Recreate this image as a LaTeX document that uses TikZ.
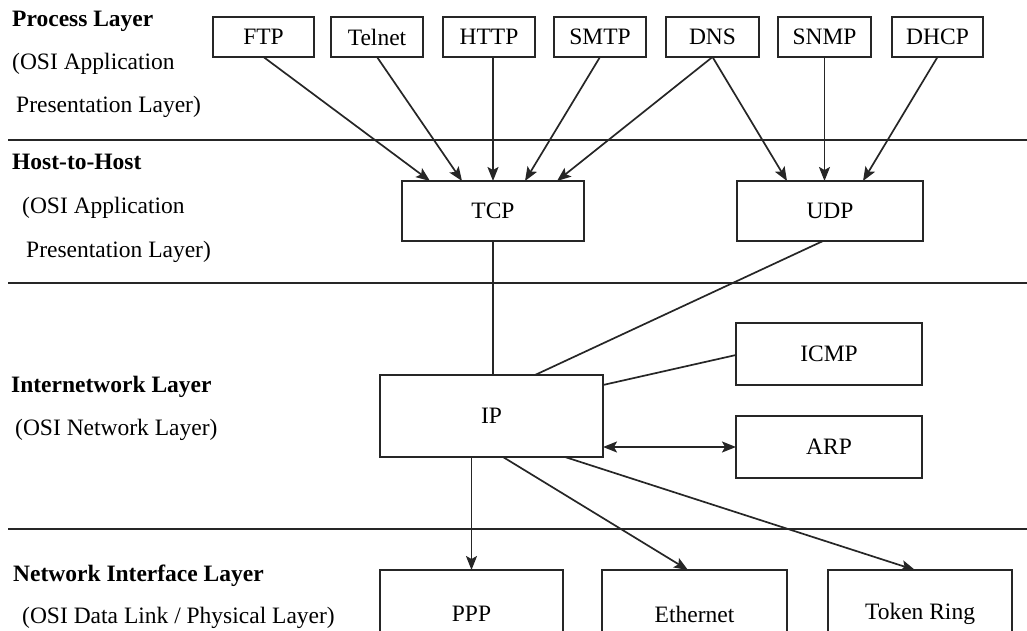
\documentclass[tikz,border=0pt]{standalone}
\usepackage{fontspec}
\setmainfont{Liberation Serif}
\usetikzlibrary{arrows.meta,calc}

\begin{document}
\begin{tikzpicture}
  [x=1pt,y=-1pt,
   proto/.style={rectangle,draw=black!85,align=center,
                 inner sep=0,outer sep=0,line width=1.6pt},
   link/.style={draw=black!85,line width=1.7pt},
   tip/.style={-{Stealth[length=14pt,width=11pt,inset=3pt]}},
   twotip/.style={{Stealth[length=14pt,width=11pt,inset=3pt]}-{Stealth[length=14pt,width=11pt,inset=3pt]}},
   layer/.style={anchor=base west,inner sep=0,font=\bfseries},
   osi/.style={anchor=base west,inner sep=0}]
  \fontsize{23.5}{28}\selectfont
  \useasboundingbox (0,0) rectangle (1027,631);
  \clip (0,0) rectangle (1027,631);
  % layer separators
  \draw[link] (8,140) -- (1027,140);
  \draw[link] (8,283) -- (1027,283);
  \draw[link] (8,529) -- (1027,529);
  % layer names
  \node[layer] (proc) at (12,27) {Process Layer};
  \node[osi] (proc1) at (12,70) {(OSI Application};
  \node[osi] (proc2) at (16,113) {Presentation Layer)};
  \node[layer] (host) at (12,170) {Host-to-Host};
  \node[osi] (host1) at (22,213) {(OSI Application};
  \node[osi] (host2) at (26,257) {Presentation Layer)};
  \node[layer] (inet) at (11,392) {Internetwork Layer};
  \node[osi] (inet1) at (15,435) {(OSI Network Layer)};
  \node[layer] (nif) at (13,581) {Network Interface Layer};
  \node[osi] (nif1) at (22,623) {(OSI Data Link / Physical Layer)};
  % process layer protocols
  \node[proto,minimum width=101,minimum height=40] (FTP) at (263.5,37) {FTP};
  \node[proto,minimum width=92,minimum height=40] (Telnet) at (377,37) {Telnet};
  \node[proto,minimum width=92,minimum height=40] (HTTP) at (489,37) {HTTP};
  \node[proto,minimum width=92,minimum height=40] (SMTP) at (600,37) {SMTP};
  \node[proto,minimum width=93,minimum height=40] (DNS) at (712.5,37) {DNS};
  \node[proto,minimum width=93,minimum height=40] (SNMP) at (824.5,37) {SNMP};
  \node[proto,minimum width=91,minimum height=40] (DHCP) at (937.5,37) {DHCP};
  % transport
  \node[proto,minimum width=182,minimum height=60] (TCP) at (493,211) {TCP};
  \node[proto,minimum width=186,minimum height=60] (UDP) at (830,211) {UDP};
  % internetwork
  \node[proto,minimum width=223,minimum height=82] (IP) at (491.5,416) {IP};
  \node[proto,minimum width=186,minimum height=62] (ICMP) at (829,354) {ICMP};
  \node[proto,minimum width=186,minimum height=62] (ARP) at (829,447) {ARP};
  % network interface
  \node[proto,minimum width=183,minimum height=88] (PPP) at (471.5,614) {PPP};
  \node[proto,minimum width=185,minimum height=88] (Eth) at (694.5,614) {Ethernet};
  \node[proto,minimum width=184,minimum height=88] (TR) at (920,614) {Token Ring};
  \draw[link,tip] (FTP.south) to ($(TCP.north)+(-63,0)$);
  \draw[link,tip] (Telnet.south) to ($(TCP.north)+(-31,0)$);
  \draw[link,tip] (TCP.north |- HTTP.south) to (TCP.north);
  \draw[link,tip] (SMTP.south) to ($(TCP.north)+(32,0)$);
  \draw[link,tip] (DNS.south) to ($(TCP.north)+(64,0)$);
  \draw[link,tip] (DNS.south) to ($(UDP.north)+(-43,0)$);
  \draw[link,tip] (SNMP.south) to (SNMP.south |- UDP.north);
  \draw[link,tip] (DHCP.south) to ($(UDP.north)+(33,0)$);
  \draw[link] (TCP.south) to (TCP.south |- IP.north);
  \draw[link] ($(UDP.south)+(-7,0)$) to ($(IP.north)+(43.5,0)$);
  \draw[link] ($(ICMP.west)+(0,1)$) to ($(IP.north east)+(0,10)$);
  \draw[link,twotip] (IP.east |- ARP.west) to (ARP.west);
  \draw[link,tip] (PPP.north |- IP.south) to (PPP.north);
  \draw[link,tip] ($(IP.south)+(11.5,0)$) to ($(Eth.north)+(-6.5,0)$);
  \draw[link,tip] ($(IP.south)+(73.5,0)$) to ($(TR.north)+(-5,0)$);
\end{tikzpicture}
\end{document}
